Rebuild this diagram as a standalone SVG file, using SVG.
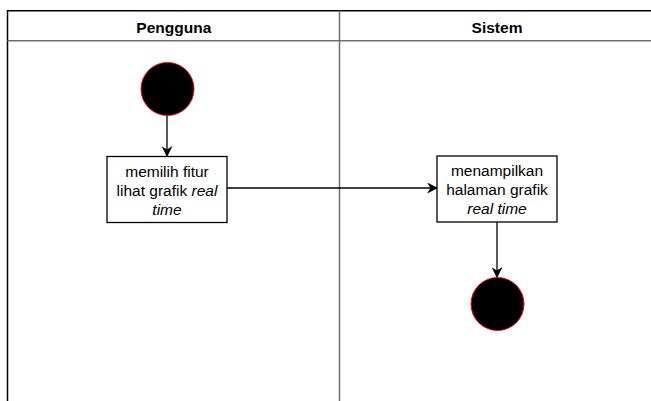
<svg xmlns="http://www.w3.org/2000/svg" width="651" height="401" viewBox="0 0 651 401">
  <style>
    .lane { fill: none; stroke: #000; stroke-width: 1.5; }
    .sep { stroke: #6e6e6e; stroke-width: 1.5; fill: none; }
    .head { font-family: "Liberation Sans", Arial, sans-serif; font-size: 15.5px; font-weight: bold; fill: #000; text-anchor: middle; }
    .act { fill: #fff; stroke: #000; stroke-width: 1.3; }
    .lbl { font-family: "Liberation Sans", Arial, sans-serif; font-size: 15.5px; fill: #000; text-anchor: middle; }
    .dot { fill: #000; stroke: #ff0000; stroke-width: 1; }
    .edge { fill: none; stroke: #000; stroke-width: 1.3; }
  </style>
  <defs>
    <marker id="arrow" viewBox="0 0 10 10" refX="9" refY="5" markerWidth="11" markerHeight="11" markerUnits="userSpaceOnUse" orient="auto">
      <path d="M0,0 L10,5 L0,10 L3,5 Z" fill="#000"/>
    </marker>
  </defs>

  <rect width="651" height="401" fill="#fff"/>

  <!-- swimlanes -->
  <g id="lanes">
    <path class="lane" d="M7.5,401 V10.8 H652"/>
    <line class="sep" x1="7.5" y1="40.8" x2="652" y2="40.8"/>
    <line class="sep" x1="339.5" y1="10.8" x2="339.5" y2="401"/>
    <text class="head" x="173.8" y="33.3">Pengguna</text>
    <text class="head" x="497" y="33.3">Sistem</text>
  </g>

  <!-- connectors -->
  <g id="connectors">
    <line class="edge" x1="167" y1="115" x2="167" y2="156" marker-end="url(#arrow)"/>
    <line class="edge" x1="227" y1="188" x2="437" y2="188" marker-end="url(#arrow)"/>
    <line class="edge" x1="497" y1="222" x2="497" y2="277" marker-end="url(#arrow)"/>
  </g>

  <g id="start">
    <circle class="dot" cx="167.5" cy="89" r="26.5"/>
  </g>

  <g id="pilih-fitur">
    <rect class="act" x="107" y="156.5" width="120" height="66"/>
    <text class="lbl" x="167" y="177">memilih fitur</text>
    <text class="lbl" x="167" y="196">lihat grafik <tspan font-style="italic">real</tspan></text>
    <text class="lbl" x="167" y="215" font-style="italic">time</text>
  </g>

  <g id="tampil-grafik">
    <rect class="act" x="437" y="156" width="120" height="66"/>
    <text class="lbl" x="497" y="176">menampilkan</text>
    <text class="lbl" x="497" y="195">halaman grafik</text>
    <text class="lbl" x="497" y="214" font-style="italic">real time</text>
  </g>

  <g id="end">
    <circle class="dot" cx="497.5" cy="304" r="26.5"/>
  </g>
</svg>
